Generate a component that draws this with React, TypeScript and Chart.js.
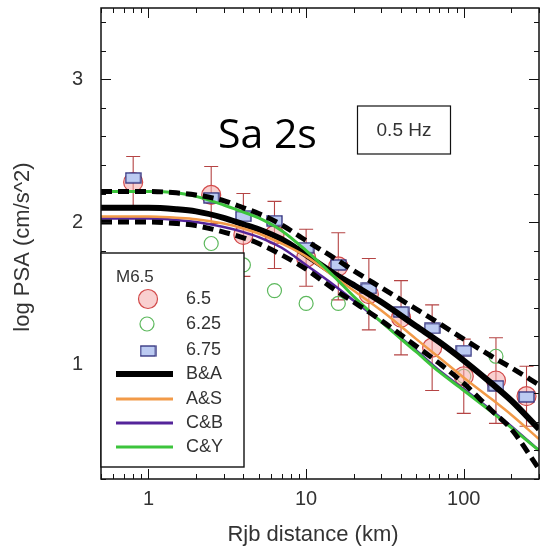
import React, { useEffect, useRef } from 'react';
import { Chart, registerables } from 'chart.js';

Chart.register(...registerables);

// ---- Data ----
const CURVE_X = [0.5, 1, 1.5, 2, 3, 4, 5, 7, 10, 15, 20, 30, 50, 70, 100, 150, 200, 300];
const BA = [2.1, 2.1, 2.09, 2.075, 2.03, 1.985, 1.95, 1.88, 1.77, 1.64, 1.56, 1.44, 1.27, 1.16, 1.03, 0.87, 0.75, 0.55];
const BA_HI = [2.215, 2.215, 2.205, 2.19, 2.15, 2.1, 2.06, 1.98, 1.87, 1.75, 1.66, 1.54, 1.39, 1.29, 1.18, 1.06, 0.98, 0.86];
const BA_LO = [2.0, 2.0, 1.99, 1.975, 1.93, 1.89, 1.85, 1.77, 1.67, 1.53, 1.44, 1.31, 1.13, 1.01, 0.87, 0.68, 0.55, 0.27];
const AS = [2.04, 2.04, 2.03, 2.02, 1.99, 1.955, 1.92, 1.85, 1.76, 1.62, 1.52, 1.38, 1.18, 1.05, 0.91, 0.76, 0.65, 0.48];
const CB = [2.025, 2.025, 2.015, 2.0, 1.965, 1.93, 1.895, 1.82, 1.7, 1.56, 1.45, 1.3, 1.1, 0.96, 0.83, 0.68, 0.57, 0.4];
const CY = [2.215, 2.215, 2.205, 2.18, 2.12, 2.07, 2.03, 1.94, 1.8, 1.62, 1.48, 1.3, 1.09, 0.95, 0.82, 0.67, 0.56, 0.4];

const BIN_X = [0.8, 2.5, 4, 6.3, 10, 16, 25, 40, 63, 100, 160, 250];
const M675 = [2.31, 2.17, 2.04, 2.01, 1.82, 1.7, 1.535, 1.37, 1.255, 1.1, 0.853, 0.775];
const M65 = [2.28, 2.19, 1.91, 1.91, 1.75, 1.69, 1.495, 1.33, 1.12, 0.92, 0.89, 0.78];
const M65_ERR = [0.18, 0.2, 0.29, 0.235, 0.2, 0.235, 0.25, 0.26, 0.3, 0.26, 0.3, 0.21];
const M625_X = [2.5, 4, 6.3, 10, 16, 100, 160];
const M625 = [1.85, 1.7, 1.52, 1.43, 1.43, 0.92, 1.06];

const X_TICKS = [1, 10, 100];
const Y_TICKS = [1, 2, 3];

const FONT = "'Liberation Sans', Arial, sans-serif";
const TXT = '#333';

const RED_FILL = 'rgba(244,170,170,0.55)';
const RED_EDGE = '#d24a4a';
const GREEN_EDGE = '#5cb85c';
const BLUE_FILL = '#bccbf2';
const BLUE_EDGE = '#2c2c7a';
const ORANGE = '#f29a48';
const PURPLE = '#54249a';
const GREEN = '#3cc43c';

function makeSquare(): HTMLCanvasElement {
  const c = document.createElement('canvas');
  c.width = 17;
  c.height = 12;
  const g = c.getContext('2d')!;
  g.fillStyle = BLUE_FILL;
  g.fillRect(1, 1, 15, 10);
  g.strokeStyle = BLUE_EDGE;
  g.lineWidth = 1.3;
  g.strokeRect(1, 1, 15, 10);
  return c;
}

function pts(xs: number[], ys: number[]) {
  return xs.map((x, i) => ({ x, y: ys[i] }));
}

export default function App() {
  const ref = useRef<HTMLCanvasElement>(null);

  useEffect(() => {
    const canvas = ref.current!;
    const square = makeSquare();

    const errorBars = {
      id: 'errorBars',
      beforeDatasetsDraw(chart: any) {
        const { ctx } = chart;
        const xs = chart.scales.x, ys = chart.scales.y;
        const { left, right, top, bottom } = chart.chartArea;
        ctx.save();
        ctx.beginPath();
        ctx.rect(left, top, right - left, bottom - top);
        ctx.clip();
        ctx.strokeStyle = '#b54444';
        ctx.lineWidth = 1.1;
        BIN_X.forEach((x, i) => {
          const px = xs.getPixelForValue(x);
          const p1 = ys.getPixelForValue(M65[i] + M65_ERR[i]);
          const p2 = ys.getPixelForValue(M65[i] - M65_ERR[i]);
          ctx.beginPath();
          ctx.moveTo(px, p1); ctx.lineTo(px, p2);
          ctx.moveTo(px - 7, p1); ctx.lineTo(px + 7, p1);
          ctx.moveTo(px - 7, p2); ctx.lineTo(px + 7, p2);
          ctx.stroke();
        });
        ctx.restore();
      },
    };

    const frame = {
      id: 'frame',
      afterDatasetsDraw(chart: any) {
        const { ctx } = chart;
        const xs = chart.scales.x, ys = chart.scales.y;
        const { left, right, top, bottom } = chart.chartArea;
        ctx.save();
        ctx.strokeStyle = '#111';
        ctx.lineWidth = 1;
        ctx.beginPath();
        for (let e = -1; e <= 2; e++) {
          for (let m = 1; m <= 9; m++) {
            const v = m * Math.pow(10, e);
            if (v < 0.5 || v > 300) continue;
            const px = Math.round(xs.getPixelForValue(v)) + 0.5;
            const len = m === 1 ? 10 : 5;
            ctx.moveTo(px, bottom); ctx.lineTo(px, bottom - len);
            ctx.moveTo(px, top); ctx.lineTo(px, top + len);
          }
        }
        for (let k = 1; k <= 17; k++) {
          const v = k * 0.2;
          const py = Math.round(ys.getPixelForValue(v)) + 0.5;
          const len = k % 5 === 0 ? 10 : 5;
          ctx.moveTo(left, py); ctx.lineTo(left + len, py);
          ctx.moveTo(right, py); ctx.lineTo(right - len, py);
        }
        ctx.stroke();
        ctx.lineWidth = 1.5;
        ctx.strokeRect(left, top, right - left, bottom - top);
        ctx.restore();
      },
    };

    const decor = {
      id: 'decor',
      afterDraw(chart: any) {
        const { ctx } = chart;
        ctx.save();
        // axis titles
        ctx.fillStyle = TXT;
        ctx.font = `22px ${FONT}`;
        ctx.textAlign = 'center';
        ctx.textBaseline = 'middle';
        ctx.fillText('Rjb distance (km)', 313, 535);
        ctx.save();
        ctx.translate(23, 247);
        ctx.rotate(-Math.PI / 2);
        ctx.fillText('log PSA (cm/s^2)', 0, 0);
        ctx.restore();

        // Sa 2s
        ctx.fillStyle = '#000';
        ctx.font = `41px 'Open Sans', 'Noto Sans', sans-serif`;
        ctx.textAlign = 'left';
        ctx.textBaseline = 'alphabetic';
        ctx.fillText('Sa 2s', 218, 148);

        // 0.5 Hz box
        ctx.strokeStyle = '#111';
        ctx.lineWidth = 1.2;
        ctx.strokeRect(357.5, 106, 93, 48);
        ctx.fillStyle = TXT;
        ctx.font = `19px ${FONT}`;
        ctx.textAlign = 'center';
        ctx.textBaseline = 'middle';
        ctx.fillText('0.5 Hz', 404, 131);

        // legend box
        ctx.fillStyle = '#fff';
        ctx.fillRect(101, 253, 143, 214);
        ctx.strokeStyle = '#111';
        ctx.lineWidth = 1.4;
        ctx.strokeRect(101, 253, 143, 214);

        ctx.fillStyle = TXT;
        ctx.textAlign = 'left';
        ctx.textBaseline = 'middle';
        ctx.font = `17px ${FONT}`;
        ctx.fillText('M6.5', 116, 277);

        ctx.font = `18px ${FONT}`;
        const tx = 186;
        // red circle
        ctx.beginPath();
        ctx.arc(148, 299, 9.5, 0, Math.PI * 2);
        ctx.fillStyle = RED_FILL; ctx.fill();
        ctx.strokeStyle = RED_EDGE; ctx.lineWidth = 1.2; ctx.stroke();
        ctx.fillStyle = TXT; ctx.fillText('6.5', tx, 299);
        // green circle
        ctx.beginPath();
        ctx.arc(147, 324, 7, 0, Math.PI * 2);
        ctx.strokeStyle = GREEN_EDGE; ctx.lineWidth = 1.2; ctx.stroke();
        ctx.fillStyle = TXT; ctx.fillText('6.25', tx, 324);
        // blue square
        ctx.drawImage(square, 148 - square.width / 2, 351 - square.height / 2);
        ctx.fillStyle = TXT; ctx.fillText('6.75', tx, 350);

        const lines: [string, string, number, number][] = [
          ['B&A', '#000', 6, 374],
          ['A&S', ORANGE, 3, 399],
          ['C&B', PURPLE, 3, 423],
          ['C&Y', GREEN, 3, 447],
        ];
        lines.forEach(([label, color, w, y]) => {
          ctx.beginPath();
          ctx.moveTo(116, y); ctx.lineTo(173, y);
          ctx.strokeStyle = color; ctx.lineWidth = w; ctx.stroke();
          ctx.fillStyle = TXT;
          ctx.fillText(label, tx, y);
        });
        ctx.restore();
      },
    };

    const lineDs = (label: string, ys: number[], color: string, width: number, order: number, dash: number[] = []) => ({
      type: 'line' as const,
      label,
      data: pts(CURVE_X, ys),
      borderColor: color,
      borderWidth: width,
      borderDash: dash,
      pointRadius: 0,
      showLine: true,
      fill: false,
      cubicInterpolationMode: 'monotone' as const,
      order,
    });

    const zeroPad = (s: any) => {
      s.paddingTop = 0;
      s.paddingBottom = 0;
      s.paddingLeft = 0;
      s.paddingRight = 0;
    };

    const chart = new Chart(canvas, {
      type: 'scatter',
      data: {
        datasets: [
          lineDs('B&A +', BA_HI, '#000', 5, 0, [11, 6]),
          lineDs('B&A -', BA_LO, '#000', 5, 1, [11, 6]),
          lineDs('C&Y', CY, GREEN, 3, 2),
          lineDs('A&S', AS, ORANGE, 2.5, 3),
          lineDs('C&B', CB, PURPLE, 2.5, 4),
          lineDs('B&A', BA, '#000', 6, 5),
          {
            label: '6.75',
            data: pts(BIN_X, M675),
            pointStyle: square as any,
            pointRadius: 8,
            order: 10,
          },
          {
            label: '6.5',
            data: pts(BIN_X, M65),
            pointStyle: 'circle',
            pointRadius: 9.5,
            backgroundColor: RED_FILL,
            borderColor: RED_EDGE,
            borderWidth: 1.2,
            order: 11,
          },
          {
            label: '6.25',
            data: pts(M625_X, M625),
            pointStyle: 'circle',
            pointRadius: 7,
            backgroundColor: 'rgba(255,255,255,0)',
            borderColor: GREEN_EDGE,
            borderWidth: 1.2,
            order: 12,
          },
        ] as any,
      },
      options: {
        animation: false,
        responsive: false,
        maintainAspectRatio: false,
        layout: { autoPadding: false, padding: { top: 8, right: 2, left: 0, bottom: 0 } },
        plugins: { legend: { display: false }, tooltip: { enabled: false } },
        events: [],
        scales: {
          x: {
            type: 'logarithmic',
            min: 0.5,
            max: 300,
            position: 'bottom',
            grid: { display: false, drawTicks: false },
            border: { display: false },
            ticks: {
              font: { family: FONT, size: 20 },
              color: TXT,
              padding: 8,
              autoSkip: false,
              maxRotation: 0,
              callback: (v: any) => String(v),
            },
            afterBuildTicks: (s: any) => {
              s.ticks = X_TICKS.map((v) => ({ value: v }));
            },
            afterFit: (s: any) => {
              s.height = 71;
              zeroPad(s);
            },
          },
          y: {
            type: 'linear',
            min: 0.2,
            max: 3.5,
            grid: { display: false, drawTicks: false },
            border: { display: false },
            ticks: {
              font: { family: FONT, size: 20 },
              color: TXT,
              padding: 18,
              callback: (v: any) => String(v),
            },
            afterBuildTicks: (s: any) => {
              s.ticks = Y_TICKS.map((v) => ({ value: v }));
            },
            afterFit: (s: any) => {
              s.width = 101;
              zeroPad(s);
            },
          },
        },
      } as any,
      plugins: [errorBars, frame, decor],
    });

    return () => chart.destroy();
  }, []);

  return (
    <div style={{ position: 'absolute', left: 0, top: 0, width: 541, height: 550, background: '#fff' }}>
      <canvas ref={ref} width={541} height={550} style={{ width: 541, height: 550, display: 'block' }} />
    </div>
  );
}
